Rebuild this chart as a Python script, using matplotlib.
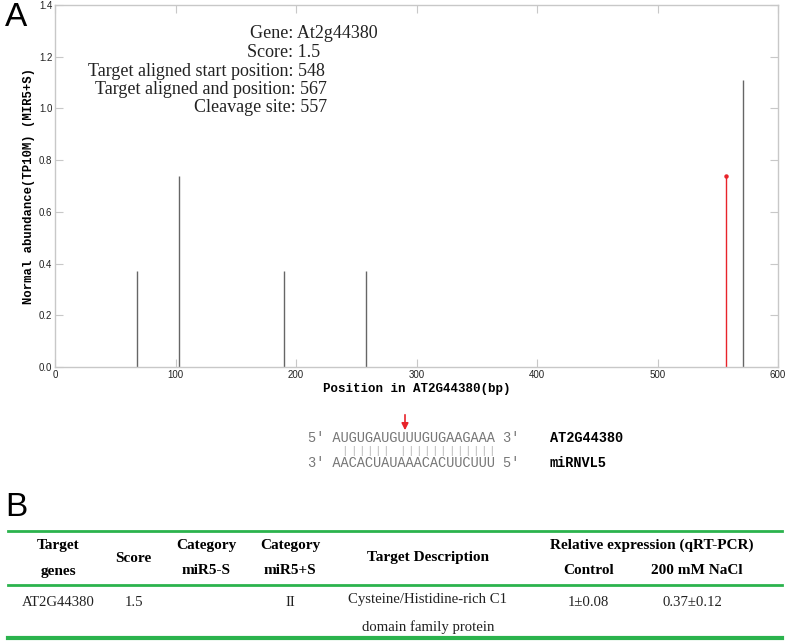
import matplotlib.pyplot as plt
from matplotlib.patches import FancyArrowPatch

# stem data
positions = [68, 103, 190, 258, 571]
abundance = [0.37, 0.74, 0.37, 0.37, 1.11]
cleave_pos = 557
cleave_val = 0.74

info_lines = ["Gene: At2g44380", "Score: 1.5",
              "Target aligned start position: 548",
              "Target aligned and position: 567",
              "Cleavage site: 557"]

target_seq = "AUGUGAUGUUUGUGAAGAAA"
mirna_seq = "AACACUAUAAACACUUCUUU"

header1 = ["Target", "Category", "Category", "Relative expression (qRT-PCR)"]
header2 = ["genes", "miR5-S", "miR5+S", "Control", "200 mM NaCl"]
row = ["AT2G44380", "1.5", "", "II", "1\u00b10.08", "0.37\u00b10.12"]
desc = ["Cysteine/Histidine-rich C1", "domain family protein"]

W, H = 787, 643
fig = plt.figure(figsize=(W / 100, H / 100), dpi=100)

def fx(x):
    return x / W

def fy(y):
    return 1 - y / H

# ---- panel A
ax = fig.add_axes([fx(55), fy(367), fx(778) - fx(55), fy(5) - fy(367)])
ax.vlines(positions, 0, abundance, color='#666666', lw=1.0)
ax.vlines(cleave_pos, 0, cleave_val, color='#e8232a', lw=1.0)
ax.plot([cleave_pos], [cleave_val], 'o', color='#e8232a', ms=2.2)
ax.set_xlim(0, 600)
ax.set_ylim(0, 1.4)
ax.set_xticks(range(0, 601, 100))
ax.set_yticks([0, 0.2, 0.4, 0.6, 0.8, 1.0, 1.2, 1.4])
ax.set_yticklabels(['0.0', '0.2', '0.4', '0.6', '0.8', '1.0', '1.2', '1.4'])
for s in ax.spines.values():
    s.set_color('#c8c8c8')
    s.set_linewidth(1.0)
ax.tick_params(direction='in', length=6, color='#c8c8c8', labelsize=7,
               top=True, right=True, pad=2, labelcolor='#222222')
for lab in ax.get_xticklabels() + ax.get_yticklabels():
    lab.set_family('Liberation Sans')
ax.set_xlabel('Position in AT2G44380(bp)', family='Liberation Mono',
              fontweight='bold', fontsize=9, labelpad=2)
ax.set_ylabel('Normal abundance(TP10M) (MIR5+S)', family='Liberation Mono',
              fontweight='bold', fontsize=8.8, labelpad=3)

right_edges = [378, 320, 325, 327, 327]
for i, t in enumerate(info_lines):
    fig.text(fx(right_edges[i]), fy(34 + i * 18.5), t, ha='right', va='center',
             family='Liberation Serif', fontsize=13, color='#222222')

fig.text(fx(16), fy(18), 'A', fontsize=24, family='Liberation Sans',
         ha='center', va='center')

# alignment
fs = 9.8
cw = fs * 0.6 * 100 / 72  # monospace advance in px
x0 = 308
mono = dict(family='Liberation Mono', fontsize=fs, va='center', ha='left')
fig.text(fx(x0), fy(438), "5' " + target_seq + " 3'", color='#777777', **mono)
fig.text(fx(x0), fy(463), "3' " + mirna_seq + " 5'", color='#777777', **mono)
paired = {('A', 'U'), ('U', 'A'), ('G', 'C'), ('C', 'G')}
for i, (a, b) in enumerate(zip(target_seq, mirna_seq)):
    if (a, b) in paired:
        fig.text(fx(x0 + (3 + i + 0.5) * cw), fy(451), '|', color='#aaaaaa',
                 family='Liberation Sans', fontsize=7, ha='center', va='center')
fig.text(fx(550), fy(438), "AT2G44380", fontweight='bold', **mono)
fig.text(fx(550), fy(463), "miRNVL5", fontweight='bold', **mono)
fig.patches.append(FancyArrowPatch(
    (fx(405), fy(412)), (fx(405), fy(433)), transform=fig.transFigure,
    arrowstyle='-|>,head_width=2,head_length=4', color='#e8232a', lw=1.2))

# ---- panel B
fig.text(fx(16), fy(508), 'B', fontsize=24, family='Liberation Sans',
         ha='center', va='center')
green = '#2bb34d'
for y, lw in [(531, 2.0), (585, 2.0), (638, 3.0)]:
    fig.add_artist(plt.Line2D([fx(8), fx(782)], [fy(y), fy(y)], color=green,
                              lw=lw, transform=fig.transFigure))

bold = dict(family='Liberation Serif', fontweight='bold', fontsize=11,
            ha='center', va='center')
reg = dict(family='Liberation Serif', fontsize=10.6, ha='center',
           va='center', color='#222222')
h1_x = [58, 206, 290, 652]
for x, t in zip(h1_x, header1):
    fig.text(fx(x), fy(545), t, **bold)
h2_x = [58, 206, 290, 589, 697]
for x, t in zip(h2_x, header2):
    fig.text(fx(x), fy(571), t, **bold)
fig.text(fx(133), fy(558), 'Score', **bold)
fig.text(fx(428), fy(558), 'Target Description', **bold)

row_x = [58, 134, 206, 290, 588, 692]
for x, t in zip(row_x, row):
    fig.text(fx(x), fy(603), t, **reg)
fig.text(fx(428), fy(599), desc[0], **reg)
fig.text(fx(428), fy(627), desc[1], **reg)

fig.savefig('out.png', dpi=100)
